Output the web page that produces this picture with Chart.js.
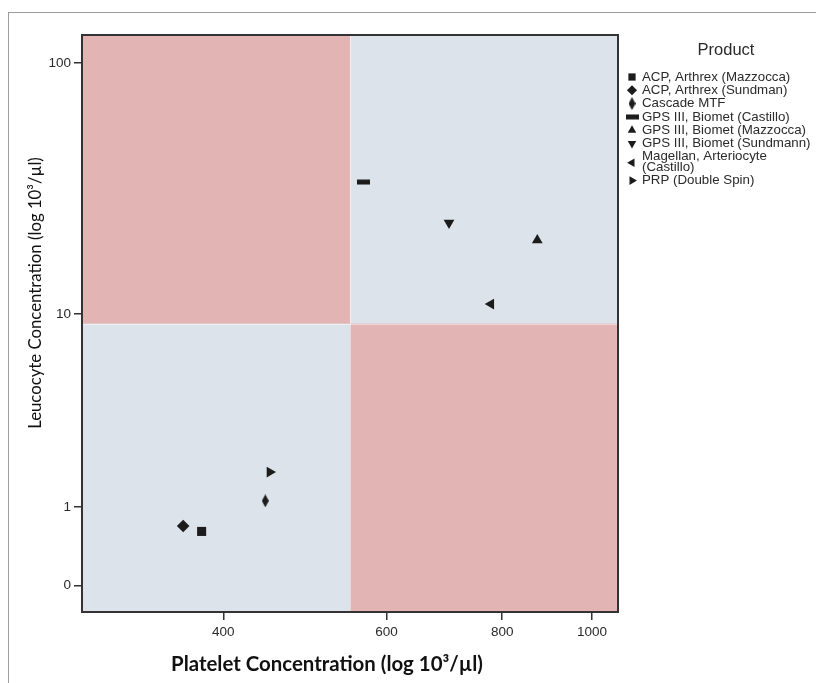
<!DOCTYPE html>
<html>
<head>
<meta charset="utf-8">
<script src="https://cdn.jsdelivr.net/npm/chart.js"></script>
<style>
  html, body { margin: 0; padding: 0; background: #fff; }
  #wrap { position: relative; width: 816px; height: 683px; overflow: hidden; }
  #frame { position: absolute; left: 8px; top: 12px; width: 900px; height: 800px;
           border-left: 1px solid #9c9c9c; border-top: 1px solid #9c9c9c; }
  #chart { position: absolute; left: 0; top: 0; }
</style>
</head>
<body>
<div id="wrap">
  <div id="frame"></div>
  <canvas id="chart" width="816" height="683"></canvas>
</div>
<script>
// values
const products = [
  'ACP, Arthrex (Mazzocca)',
  'ACP, Arthrex (Sundman)',
  'Cascade MTF',
  'GPS III, Biomet (Castillo)',
  'GPS III, Biomet (Mazzocca)',
  'GPS III, Biomet (Sundmann)',
  'Magellan, Arteriocyte (Castillo)',
  'PRP (Double Spin)'
];
const plateletCount = [379, 362, 444, 567, 873, 701, 778, 449];
const leucocyteCount = [0.61, 0.69, 1.11, 34.3, 20.1, 23.6, 11.0, 1.72];
const xTickValues = [400, 600, 800, 1000];
const yTickValues = [0, 1, 10, 100];
const xRange = [281.5, 1067];
const yRange = [-0.21, 128.4];
const plateletCut = 548;
const leucocyteCut = 9.1;

const INK = '#1c1c1c';
const TEXT = '#2a2a2a';
const RED = '#e2b4b4';
const BLUE = '#dde3eb';
const SANS = '"Liberation Sans", Arial, sans-serif';

// the y axis is log10(value + 1), so 0 can sit on it
const toLog = v => Math.log10(v + 1);

function makeMarker(w, h, draw) {
  const c = document.createElement('canvas');
  c.width = w;
  c.height = h;
  const g = c.getContext('2d');
  g.fillStyle = INK;
  draw(g, w, h);
  return c;
}

const thinDiamond = makeMarker(7, 13, (g, w, h) => {
  g.beginPath();
  g.moveTo(w / 2, 0);
  g.lineTo(w, h / 2);
  g.lineTo(w / 2, h);
  g.lineTo(0, h / 2);
  g.closePath();
  g.fill();
});
const dash = makeMarker(13, 6, (g, w, h) => {
  g.fillRect(0, 0.5, w, h - 1);
});

const markers = [
  { style: 'rect', rotation: 0, radius: 6.4 },
  { style: 'rectRot', rotation: 0, radius: 6.3 },
  { style: thinDiamond, rotation: 0, radius: 6 },
  { style: dash, rotation: 0, radius: 6 },
  { style: 'triangle', rotation: 0, radius: 6.2 },
  { style: 'triangle', rotation: 180, radius: 6.2 },
  { style: 'triangle', rotation: 270, radius: 6.2 },
  { style: 'triangle', rotation: 90, radius: 6.2 }
];

const datasets = products.map((name, i) => ({
  label: name,
  data: [{ x: plateletCount[i], y: toLog(leucocyteCount[i]) }],
  pointStyle: markers[i].style,
  rotation: markers[i].rotation,
  pointRadius: markers[i].radius,
  backgroundColor: INK,
  borderWidth: 0
}));

const quadrants = {
  id: 'quadrants',
  beforeDraw(chart) {
    const { ctx, chartArea: a, scales } = chart;
    const cx = scales.x.getPixelForValue(plateletCut);
    const cy = scales.y.getPixelForValue(toLog(leucocyteCut));
    ctx.save();
    ctx.fillStyle = BLUE;
    ctx.fillRect(a.left, a.top, a.right - a.left, a.bottom - a.top);
    ctx.fillStyle = RED;
    ctx.fillRect(a.left, a.top, cx - a.left, cy - a.top);
    ctx.fillRect(cx, cy, a.right - cx, a.bottom - cy);
    // faint seam between the quadrants
    ctx.strokeStyle = 'rgba(255,255,255,0.45)';
    ctx.lineWidth = 1;
    ctx.beginPath();
    ctx.moveTo(Math.round(cx) + 0.5, a.top);
    ctx.lineTo(Math.round(cx) + 0.5, a.bottom);
    ctx.moveTo(a.left, Math.round(cy) + 0.5);
    ctx.lineTo(a.right, Math.round(cy) + 0.5);
    ctx.stroke();
    ctx.restore();
  },
  beforeDatasetsDraw(chart) {
    const { ctx, chartArea: a } = chart;
    ctx.save();
    ctx.strokeStyle = '#333';
    ctx.lineWidth = 2;
    ctx.strokeRect(a.left, a.top, a.right - a.left, a.bottom - a.top);
    ctx.restore();
  }
};

function fitFont(ctx, text, weight, family, width) {
  ctx.font = weight + ' 20px ' + family;
  const size = 20 * width / ctx.measureText(text).width;
  return weight + ' ' + size.toFixed(2) + 'px ' + family;
}

const axisTitles = {
  id: 'axisTitles',
  afterDraw(chart) {
    const ctx = chart.ctx;
    const xt = 'Platelet Concentration (log 10\u00b3/\u00b5l)';
    const yt = 'Leucocyte Concentration (log 10\u00b3/\u00b5l)';
    ctx.save();
    ctx.fillStyle = '#111';
    ctx.textAlign = 'center';
    ctx.textBaseline = 'middle';
    ctx.font = fitFont(ctx, xt, 'bold', 'Lato', 312);
    ctx.fillText(xt, 327, 664);
    ctx.translate(36, 293);
    ctx.rotate(-Math.PI / 2);
    ctx.font = fitFont(ctx, yt, 'normal', 'Lato', 272);
    ctx.fillText(yt, 0, 0);
    ctx.restore();
  }
};

function wrap(ctx, text, maxWidth) {
  if (ctx.measureText(text).width <= maxWidth) return [text];
  const cut = text.lastIndexOf(' ');
  return [text.slice(0, cut), text.slice(cut + 1)];
}

const productLegend = {
  id: 'productLegend',
  afterDraw(chart) {
    const ctx = chart.ctx;
    ctx.save();
    ctx.fillStyle = TEXT;
    ctx.textBaseline = 'middle';
    ctx.textAlign = 'center';
    ctx.font = '16.5px ' + SANS;
    ctx.fillText('Product', 726, 50);

    ctx.textAlign = 'left';
    ctx.font = '13.3px ' + SANS;
    let y = 77;
    chart.data.datasets.forEach(ds => {
      const lines = wrap(ctx, ds.label, 178);
      const my = lines.length > 1 ? y + 6 : y;
      ctx.fillStyle = INK;
      Chart.helpers.drawPoint(ctx, {
        pointStyle: ds.pointStyle,
        rotation: ds.rotation,
        radius: ds.pointRadius * 0.8,
        borderWidth: 0
      }, 632, my);
      ctx.fillStyle = TEXT;
      lines.forEach((line, k) => ctx.fillText(line, 642, y + k * 10.5));
      y += 13.3 + (lines.length - 1) * 10.5;
    });
    ctx.restore();
  }
};

const tickFont = { family: SANS, size: 13.5 };

new Chart(document.getElementById('chart'), {
  type: 'scatter',
  data: { datasets },
  options: {
    responsive: false,
    animation: false,
    devicePixelRatio: 1,
    layout: { padding: { left: 0, top: 35, right: 198, bottom: 0 } },
    plugins: {
      legend: { display: false },
      tooltip: { enabled: false }
    },
    scales: {
      x: {
        type: 'logarithmic',
        min: xRange[0],
        max: xRange[1],
        afterBuildTicks: s => { s.ticks = xTickValues.map(v => ({ value: v })); },
        afterFit: s => { s.height = 71; },
        ticks: {
          callback: v => String(v),
          font: tickFont,
          color: TEXT,
          padding: 4,
          maxRotation: 0,
          autoSkip: false
        },
        grid: { drawOnChartArea: false, tickLength: 8, color: '#333', lineWidth: 1.5 },
        border: { display: false }
      },
      y: {
        type: 'linear',
        min: toLog(yRange[0]),
        max: toLog(yRange[1]),
        afterBuildTicks: s => { s.ticks = yTickValues.map(v => ({ value: toLog(v) })); },
        afterFit: s => { s.width = 82; },
        ticks: {
          callback: (v, i) => String(yTickValues[i]),
          font: tickFont,
          color: TEXT,
          padding: 3,
          autoSkip: false
        },
        grid: { drawOnChartArea: false, tickLength: 8, color: '#333', lineWidth: 1.5 },
        border: { display: false }
      }
    }
  },
  plugins: [quadrants, axisTitles, productLegend]
});
</script>
</body>
</html>
